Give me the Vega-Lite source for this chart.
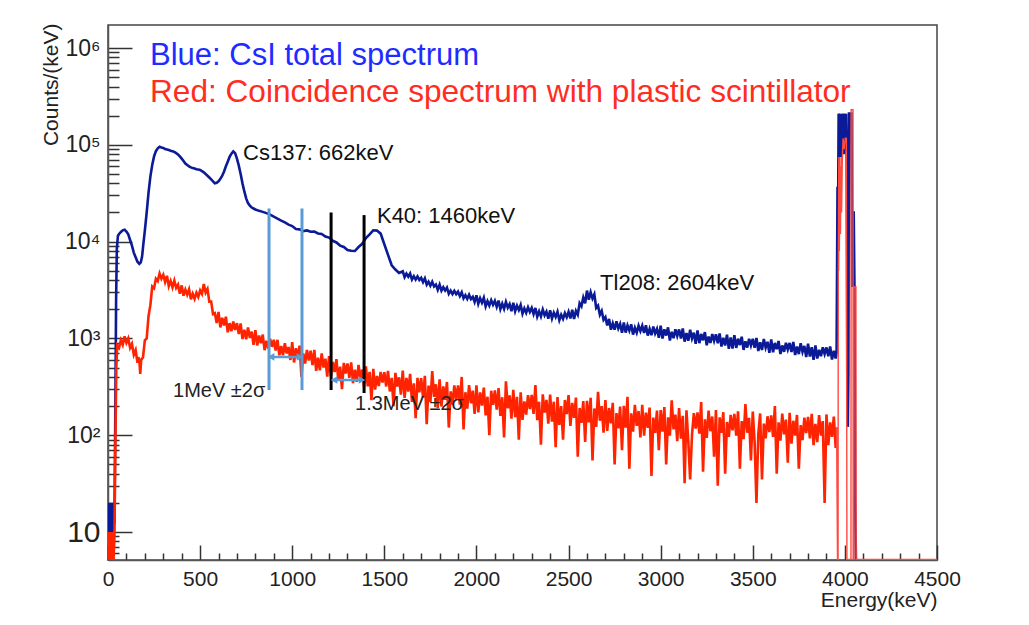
{
"$schema": "https://vega.github.io/schema/vega-lite/v6.json",
"width": 829, "height": 535,
"autosize": {"type": "none"},
"padding": {"left": 108, "top": 25, "right": 92, "bottom": 65},
"background": "white",
"config": {"view": {"stroke": "#444", "strokeWidth": 1.5}, "font": "Liberation Sans"},
"datasets": {
"blue": [
{"e":0,"c":20},{"e":5,"c":10},{"e":10,"c":20},{"e":15,"c":10},{"e":20,"c":20},{"e":25,"c":10},{"e":30,"c":20},{"e":35,"c":12},{"e":40,"c":200},{"e":44,"c":2500},{"e":48,"c":8500},{"e":54,"c":11500},{"e":60,"c":12000},{"e":70,"c":12600},{"e":80,"c":13100},{"e":90,"c":13300},{"e":100,"c":12700},{"e":110,"c":11900},{"e":120,"c":10400},{"e":130,"c":9100},{"e":140,"c":7700},{"e":150,"c":6900},{"e":160,"c":6200},{"e":170,"c":5900},{"e":178,"c":6100},{"e":185,"c":7000},{"e":192,"c":9500},{"e":200,"c":13000},{"e":210,"c":20000},{"e":220,"c":32000},{"e":230,"c":47000},{"e":240,"c":62000},{"e":250,"c":76000},{"e":260,"c":86000},{"e":270,"c":92000},{"e":280,"c":95500},{"e":290,"c":94000},{"e":300,"c":93000},{"e":310,"c":90500},{"e":320,"c":89500},{"e":330,"c":88500},{"e":340,"c":87000},{"e":350,"c":86000},{"e":360,"c":84500},{"e":370,"c":82000},{"e":380,"c":79500},{"e":390,"c":76000},{"e":400,"c":72000},{"e":410,"c":68000},{"e":420,"c":64000},{"e":430,"c":62000},{"e":440,"c":60000},{"e":450,"c":58500},{"e":460,"c":57500},{"e":470,"c":57000},{"e":480,"c":56000},{"e":490,"c":55500},{"e":500,"c":55000},{"e":510,"c":53500},{"e":520,"c":52000},{"e":530,"c":50000},{"e":540,"c":48000},{"e":550,"c":46000},{"e":560,"c":44000},{"e":570,"c":42000},{"e":580,"c":40000},{"e":590,"c":40500},{"e":600,"c":42000},{"e":610,"c":44500},{"e":620,"c":48000},{"e":630,"c":53000},{"e":640,"c":60000},{"e":650,"c":67000},{"e":660,"c":75000},{"e":670,"c":81000},{"e":680,"c":85500},{"e":690,"c":82000},{"e":700,"c":72000},{"e":710,"c":61000},{"e":720,"c":50000},{"e":730,"c":40000},{"e":740,"c":33000},{"e":750,"c":28000},{"e":760,"c":25000},{"e":770,"c":23500},{"e":780,"c":22500},{"e":790,"c":22000},{"e":800,"c":21500},{"e":820,"c":20800},{"e":840,"c":20300},{"e":860,"c":19700},{"e":880,"c":19000},{"e":900,"c":18100},{"e":920,"c":17300},{"e":940,"c":16500},{"e":960,"c":15800},{"e":980,"c":15000},
{"e":1000,"c":14500},{"e":1020,"c":13500},{"e":1040,"c":13400},{"e":1060,"c":12850},{"e":1080,"c":13050},{"e":1100,"c":12650},{"e":1120,"c":12700},{"e":1140,"c":12150},{"e":1160,"c":12000},{"e":1180,"c":11300},
{"e":1200,"c":11000},{"e":1220,"c":10200},{"e":1240,"c":9800},{"e":1260,"c":9100},{"e":1280,"c":8800},{"e":1300,"c":8200},{"e":1320,"c":8050},{"e":1340,"c":8000},{"e":1360,"c":8800},{"e":1380,"c":9500},
{"e":1400,"c":10900},{"e":1420,"c":11900},{"e":1440,"c":13100},{"e":1460,"c":13000},{"e":1480,"c":12100},{"e":1500,"c":9400},{"e":1520,"c":7300},{"e":1540,"c":5700},{"e":1560,"c":5150},{"e":1580,"c":4750},
{"e":1600,"c":4931},{"e":1610,"c":4291},{"e":1620,"c":4676},{"e":1630,"c":4343},{"e":1640,"c":4682},{"e":1650,"c":4059},{"e":1660,"c":4390},{"e":1670,"c":4047},{"e":1680,"c":4370},{"e":1690,"c":4023},
{"e":1700,"c":4228},{"e":1710,"c":3816},{"e":1720,"c":4181},{"e":1730,"c":3591},{"e":1740,"c":3855},{"e":1750,"c":3507},{"e":1760,"c":3845},{"e":1770,"c":3446},{"e":1780,"c":3595},{"e":1790,"c":3172},
{"e":1800,"c":3591},{"e":1810,"c":3112},{"e":1820,"c":3377},{"e":1830,"c":3123},{"e":1840,"c":3352},{"e":1850,"c":2892},{"e":1860,"c":3114},{"e":1870,"c":2877},{"e":1880,"c":3106},{"e":1890,"c":2869},
{"e":1900,"c":3044},{"e":1910,"c":2743},{"e":1920,"c":3002},{"e":1930,"c":2594},{"e":1940,"c":2796},{"e":1950,"c":2564},{"e":1960,"c":2830},{"e":1970,"c":2555},{"e":1980,"c":2688},{"e":1990,"c":2379},
{"e":2000,"c":2795},{"e":2010,"c":2281},{"e":2020,"c":2605},{"e":2030,"c":2343},{"e":2040,"c":2635},{"e":2050,"c":2142},{"e":2060,"c":2425},{"e":2070,"c":2186},{"e":2080,"c":2486},{"e":2090,"c":2227},
{"e":2100,"c":2444},{"e":2110,"c":2121},{"e":2120,"c":2462},{"e":2130,"c":2009},{"e":2140,"c":2282},{"e":2150,"c":2023},{"e":2160,"c":2382},{"e":2170,"c":2079},{"e":2180,"c":2266},{"e":2190,"c":1908},
{"e":2200,"c":2329},{"e":2210,"c":1905},{"e":2220,"c":2182},{"e":2230,"c":1967},{"e":2240,"c":2218},{"e":2250,"c":1804},{"e":2260,"c":2043},{"e":2270,"c":1842},{"e":2280,"c":2097},{"e":2290,"c":1880},
{"e":2300,"c":2063},{"e":2310,"c":1784},{"e":2320,"c":2063},{"e":2330,"c":1681},{"e":2340,"c":1907},{"e":2350,"c":1688},{"e":2360,"c":1985},{"e":2370,"c":1735},{"e":2380,"c":1894},{"e":2390,"c":1597},
{"e":2400,"c":1952},{"e":2410,"c":1603},{"e":2420,"c":1843},{"e":2430,"c":1668},{"e":2440,"c":1889},{"e":2450,"c":1542},{"e":2460,"c":1754},{"e":2470,"c":1593},{"e":2480,"c":1827},{"e":2490,"c":1659},
{"e":2500,"c":1882},{"e":2510,"c":1610},{"e":2520,"c":1975},{"e":2530,"c":1588},{"e":2540,"c":1925},{"e":2550,"c":1757},{"e":2560,"c":2312},{"e":2570,"c":2147},{"e":2580,"c":2644},{"e":2590,"c":2308},
{"e":2600,"c":3121},{"e":2610,"c":2514},{"e":2620,"c":3002},{"e":2630,"c":2584},{"e":2640,"c":2859},{"e":2650,"c":2070},{"e":2660,"c":2182},{"e":2670,"c":1761},{"e":2680,"c":1925},{"e":2690,"c":1560},
{"e":2700,"c":1661},{"e":2710,"c":1362},{"e":2720,"c":1589},{"e":2730,"c":1231},{"e":2740,"c":1431},{"e":2750,"c":1231},{"e":2760,"c":1500},{"e":2770,"c":1271},{"e":2780,"c":1413},{"e":2790,"c":1145},
{"e":2800,"c":1464},{"e":2810,"c":1149},{"e":2820,"c":1361},{"e":2830,"c":1206},{"e":2840,"c":1401},{"e":2850,"c":1097},{"e":2860,"c":1288},{"e":2870,"c":1145},{"e":2880,"c":1353},{"e":2890,"c":1194},
{"e":2900,"c":1351},{"e":2910,"c":1138},{"e":2920,"c":1368},{"e":2930,"c":1069},{"e":2940,"c":1252},{"e":2950,"c":1082},{"e":2960,"c":1325},{"e":2970,"c":1125},{"e":2980,"c":1252},{"e":2990,"c":1018},
{"e":3000,"c":1351},{"e":3010,"c":998},{"e":3020,"c":1244},{"e":3030,"c":1070},{"e":3040,"c":1302},{"e":3050,"c":953},{"e":3060,"c":1170},{"e":3070,"c":1006},{"e":3080,"c":1243},{"e":3090,"c":1061},
{"e":3100,"c":1240},{"e":3110,"c":1001},{"e":3120,"c":1267},{"e":3130,"c":927},{"e":3140,"c":1137},{"e":3150,"c":947},{"e":3160,"c":1228},{"e":3170,"c":999},{"e":3180,"c":1148},{"e":3190,"c":882},
{"e":3200,"c":1210},{"e":3210,"c":893},{"e":3220,"c":1113},{"e":3230,"c":956},{"e":3240,"c":1163},{"e":3250,"c":851},{"e":3260,"c":1044},{"e":3270,"c":897},{"e":3280,"c":1108},{"e":3290,"c":945},
{"e":3300,"c":1104},{"e":3310,"c":891},{"e":3320,"c":1128},{"e":3330,"c":826},{"e":3340,"c":1014},{"e":3350,"c":844},{"e":3360,"c":1095},{"e":3370,"c":780},{"e":3380,"c":1025},{"e":3390,"c":787},
{"e":3400,"c":1081},{"e":3410,"c":798},{"e":3420,"c":995},{"e":3430,"c":855},{"e":3440,"c":1040},{"e":3450,"c":762},{"e":3460,"c":935},{"e":3470,"c":804},{"e":3480,"c":993},{"e":3490,"c":847},
{"e":3500,"c":990},{"e":3510,"c":799},{"e":3520,"c":1013},{"e":3530,"c":742},{"e":3540,"c":911},{"e":3550,"c":759},{"e":3560,"c":986},{"e":3570,"c":802},{"e":3580,"c":923},{"e":3590,"c":710},
{"e":3600,"c":975},{"e":3610,"c":720},{"e":3620,"c":898},{"e":3630,"c":773},{"e":3640,"c":941},{"e":3650,"c":689},{"e":3660,"c":846},{"e":3670,"c":728},{"e":3680,"c":900},{"e":3690,"c":769},
{"e":3700,"c":899},{"e":3710,"c":725},{"e":3720,"c":919},{"e":3730,"c":673},{"e":3740,"c":826},{"e":3750,"c":688},{"e":3760,"c":892},{"e":3770,"c":726},{"e":3780,"c":835},{"e":3790,"c":642},
{"e":3800,"c":881},{"e":3810,"c":651},{"e":3820,"c":811},{"e":3830,"c":600},{"e":3840,"c":849},{"e":3850,"c":621},{"e":3860,"c":762},{"e":3870,"c":656},{"e":3880,"c":810},{"e":3890,"c":691},
{"e":3900,"c":808},{"e":3910,"c":653},{"e":3920,"c":827},{"e":3930,"c":606},{"e":3940,"c":744},{"e":3950,"c":620},{"e":3955,"c":720},
{"e":3960,"c":37000},{"e":3962,"c":5000},{"e":3964,"c":40000},{"e":3966,"c":210000},{"e":3970,"c":90000},{"e":3974,"c":210000},{"e":3978,"c":75000},{"e":3982,"c":210000},{"e":3986,"c":100000},{"e":3990,"c":210000},{"e":3994,"c":80000},{"e":3998,"c":210000},{"e":4002,"c":120000},{"e":4006,"c":210000},{"e":4010,"c":75000},{"e":4013,"c":440},{"e":4016,"c":122},{"e":4019,"c":440},{"e":4022,"c":210000},{"e":4030,"c":210000},{"e":4036,"c":210000},{"e":4040,"c":3400},{"e":4043,"c":20000},{"e":4048,"c":20000},{"e":4052,"c":3400},{"e":4056,"c":20},{"e":4058,"c":10},{"e":4060,"c":5.2}
],
"red": [
{"e":0,"c":5.2},{"e":5,"c":10},{"e":10,"c":5.2},{"e":15,"c":10},{"e":20,"c":5.2},{"e":25,"c":10},{"e":30,"c":5.2},{"e":35,"c":9},{"e":40,"c":80},{"e":45,"c":500},{"e":50,"c":850},{"e":60,"c":800},{"e":70,"c":960},{"e":80,"c":860},{"e":90,"c":1050},{"e":100,"c":900},{"e":110,"c":1000},{"e":120,"c":800},{"e":130,"c":880},{"e":140,"c":680},{"e":150,"c":760},{"e":160,"c":560},{"e":165,"c":640},{"e":170,"c":600},{"e":175,"c":430},{"e":180,"c":600},{"e":190,"c":640},
{"e":200,"c":954},{"e":210,"c":998},{"e":220,"c":1704},{"e":230,"c":2208},{"e":240,"c":3438},{"e":250,"c":3297},{"e":260,"c":4140},{"e":270,"c":3919},{"e":280,"c":4687},{"e":290,"c":4152},
{"e":300,"c":4548},{"e":310,"c":3823},{"e":320,"c":4432},{"e":330,"c":3469},{"e":340,"c":3926},{"e":350,"c":3369},{"e":360,"c":3962},{"e":370,"c":3333},{"e":380,"c":3591},{"e":390,"c":2896},
{"e":400,"c":3534},{"e":410,"c":2766},{"e":420,"c":3195},{"e":430,"c":2832},{"e":440,"c":3216},{"e":450,"c":2539},{"e":460,"c":2898},{"e":470,"c":2566},{"e":480,"c":2965},{"e":490,"c":2687},
{"e":500,"c":3124},{"e":510,"c":2879},{"e":520,"c":3647},{"e":530,"c":2973},{"e":540,"c":3246},{"e":550,"c":2400},{"e":560,"c":2399},{"e":570,"c":1787},{"e":580,"c":1822},{"e":590,"c":1443},
{"e":600,"c":1875},{"e":610,"c":1300},{"e":620,"c":1638},{"e":630,"c":1360},{"e":640,"c":1676},{"e":650,"c":1156},{"e":660,"c":1438},{"e":670,"c":1190},{"e":680,"c":1492},{"e":690,"c":1224},
{"e":700,"c":1437},{"e":710,"c":1108},{"e":720,"c":1430},{"e":730,"c":987},{"e":740,"c":1227},{"e":750,"c":980},{"e":760,"c":1298},{"e":770,"c":1012},{"e":780,"c":1173},{"e":790,"c":857},
{"e":800,"c":1214},{"e":810,"c":846},{"e":820,"c":1074},{"e":830,"c":891},{"e":840,"c":1097},{"e":850,"c":757},{"e":860,"c":946},{"e":870,"c":788},{"e":880,"c":993},{"e":890,"c":819},
{"e":900,"c":968},{"e":910,"c":748},{"e":920,"c":968},{"e":930,"c":669},{"e":940,"c":834},{"e":950,"c":670},{"e":960,"c":893},{"e":970,"c":700},{"e":980,"c":815},{"e":990,"c":599},
{"e":1000,"c":914},{"e":1010,"c":564},{"e":1020,"c":793},{"e":1030,"c":622},{"e":1040,"c":842},{"e":1050,"c":400},{"e":1060,"c":701},{"e":1070,"c":550},{"e":1080,"c":762},{"e":1090,"c":590},
{"e":1100,"c":747},{"e":1110,"c":529},{"e":1120,"c":760},{"e":1130,"c":462},{"e":1140,"c":631},{"e":1150,"c":469},{"e":1160,"c":700},{"e":1170,"c":501},{"e":1180,"c":617},{"e":1190,"c":404},
{"e":1200,"c":657},{"e":1210,"c":406},{"e":1220,"c":572},{"e":1230,"c":450},{"e":1240,"c":610},{"e":1250,"c":372},{"e":1260,"c":511},{"e":1270,"c":300},{"e":1280,"c":559},{"e":1290,"c":434},
{"e":1300,"c":551},{"e":1310,"c":392},{"e":1320,"c":567},{"e":1330,"c":346},{"e":1340,"c":476},{"e":1350,"c":356},{"e":1360,"c":534},{"e":1370,"c":385},{"e":1380,"c":477},{"e":1390,"c":314},
{"e":1400,"c":515},{"e":1410,"c":319},{"e":1420,"c":452},{"e":1430,"c":230},{"e":1440,"c":485},{"e":1450,"c":296},{"e":1460,"c":409},{"e":1470,"c":322},{"e":1480,"c":450},{"e":1490,"c":350},
{"e":1500,"c":447},{"e":1510,"c":319},{"e":1520,"c":462},{"e":1530,"c":283},{"e":1540,"c":391},{"e":1550,"c":200},{"e":1560,"c":441},{"e":1570,"c":319},{"e":1580,"c":397},{"e":1590,"c":262},
{"e":1600,"c":466},{"e":1610,"c":243},{"e":1620,"c":391},{"e":1630,"c":283},{"e":1640,"c":431},{"e":1650,"c":221},{"e":1660,"c":343},{"e":1670,"c":150},{"e":1680,"c":391},{"e":1690,"c":278},
{"e":1700,"c":389},{"e":1710,"c":246},{"e":1720,"c":410},{"e":1730,"c":130},{"e":1740,"c":326},{"e":1750,"c":221},{"e":1760,"c":460},{"e":1770,"c":249},{"e":1780,"c":336},{"e":1790,"c":192},
{"e":1800,"c":379},{"e":1810,"c":198},{"e":1820,"c":319},{"e":1830,"c":232},{"e":1840,"c":355},{"e":1850,"c":120},{"e":1860,"c":284},{"e":1870,"c":207},{"e":1880,"c":327},{"e":1890,"c":233},
{"e":1900,"c":327},{"e":1910,"c":207},{"e":1920,"c":400},{"e":1930,"c":115},{"e":1940,"c":278},{"e":1950,"c":188},{"e":1960,"c":330},{"e":1970,"c":214},{"e":1980,"c":289},{"e":1990,"c":166},
{"e":2000,"c":328},{"e":2010,"c":172},{"e":2020,"c":277},{"e":2030,"c":202},{"e":2040,"c":310},{"e":2050,"c":160},{"e":2060,"c":250},{"e":2070,"c":100},{"e":2080,"c":288},{"e":2090,"c":206},
{"e":2100,"c":290},{"e":2110,"c":184},{"e":2120,"c":307},{"e":2130,"c":158},{"e":2140,"c":247},{"e":2150,"c":95},{"e":2160,"c":360},{"e":2170,"c":190},{"e":2180,"c":258},{"e":2190,"c":148},
{"e":2200,"c":294},{"e":2210,"c":154},{"e":2220,"c":249},{"e":2230,"c":90},{"e":2240,"c":278},{"e":2250,"c":144},{"e":2260,"c":224},{"e":2270,"c":163},{"e":2280,"c":259},{"e":2290,"c":186},
{"e":2300,"c":261},{"e":2310,"c":166},{"e":2320,"c":330},{"e":2330,"c":143},{"e":2340,"c":222},{"e":2350,"c":80},{"e":2360,"c":265},{"e":2370,"c":171},{"e":2380,"c":232},{"e":2390,"c":132},
{"e":2400,"c":263},{"e":2410,"c":138},{"e":2420,"c":222},{"e":2430,"c":75},{"e":2440,"c":248},{"e":2450,"c":128},{"e":2460,"c":200},{"e":2470,"c":90},{"e":2480,"c":231},{"e":2490,"c":165},
{"e":2500,"c":260},{"e":2510,"c":125},{"e":2520,"c":216},{"e":2530,"c":151},{"e":2540,"c":245},{"e":2550,"c":60},{"e":2560,"c":191},{"e":2570,"c":134},{"e":2580,"c":225},{"e":2590,"c":85},
{"e":2600,"c":227},{"e":2610,"c":136},{"e":2620,"c":243},{"e":2630,"c":55},{"e":2640,"c":189},{"e":2650,"c":122},{"e":2660,"c":280},{"e":2670,"c":141},{"e":2680,"c":200},{"e":2690,"c":106},
{"e":2700,"c":231},{"e":2710,"c":111},{"e":2720,"c":191},{"e":2730,"c":133},{"e":2740,"c":216},{"e":2750,"c":50},{"e":2760,"c":169},{"e":2770,"c":118},{"e":2780,"c":198},{"e":2790,"c":70},
{"e":2800,"c":201},{"e":2810,"c":120},{"e":2820,"c":250},{"e":2830,"c":45},{"e":2840,"c":168},{"e":2850,"c":109},{"e":2860,"c":206},{"e":2870,"c":125},{"e":2880,"c":178},{"e":2890,"c":95},
{"e":2900,"c":206},{"e":2910,"c":99},{"e":2920,"c":171},{"e":2930,"c":119},{"e":2940,"c":193},{"e":2950,"c":38},{"e":2960,"c":152},{"e":2970,"c":106},{"e":2980,"c":180},{"e":2990,"c":70},
{"e":3000,"c":182},{"e":3010,"c":109},{"e":3020,"c":195},{"e":3030,"c":50},{"e":3040,"c":153},{"e":3050,"c":99},{"e":3060,"c":230},{"e":3070,"c":115},{"e":3080,"c":163},{"e":3090,"c":87},
{"e":3100,"c":191},{"e":3110,"c":92},{"e":3120,"c":159},{"e":3130,"c":32},{"e":3140,"c":181},{"e":3150,"c":86},{"e":3160,"c":35},{"e":3170,"c":100},{"e":3180,"c":169},{"e":3190,"c":117},
{"e":3200,"c":172},{"e":3210,"c":104},{"e":3220,"c":220},{"e":3230,"c":42},{"e":3240,"c":146},{"e":3250,"c":94},{"e":3260,"c":180},{"e":3270,"c":110},{"e":3280,"c":156},{"e":3290,"c":60},
{"e":3300,"c":182},{"e":3310,"c":30},{"e":3320,"c":153},{"e":3330,"c":106},{"e":3340,"c":173},{"e":3350,"c":40},{"e":3360,"c":137},{"e":3370,"c":96},{"e":3380,"c":162},{"e":3390,"c":112},
{"e":3400,"c":166},{"e":3410,"c":99},{"e":3420,"c":177},{"e":3430,"c":45},{"e":3440,"c":140},{"e":3450,"c":91},{"e":3460,"c":210},{"e":3470,"c":106},{"e":3480,"c":151},{"e":3490,"c":55},
{"e":3500,"c":176},{"e":3510,"c":85},{"e":3520,"c":20},{"e":3530,"c":103},{"e":3540,"c":168},{"e":3550,"c":35},{"e":3560,"c":132},{"e":3570,"c":93},{"e":3580,"c":157},{"e":3590,"c":108},
{"e":3600,"c":160},{"e":3610,"c":96},{"e":3620,"c":200},{"e":3630,"c":40},{"e":3640,"c":136},{"e":3650,"c":88},{"e":3660,"c":167},{"e":3670,"c":102},{"e":3680,"c":145},{"e":3690,"c":52},
{"e":3700,"c":170},{"e":3710,"c":82},{"e":3720,"c":141},{"e":3730,"c":99},{"e":3740,"c":162},{"e":3750,"c":45},{"e":3760,"c":127},{"e":3770,"c":89},{"e":3780,"c":152},{"e":3790,"c":105},
{"e":3800,"c":155},{"e":3810,"c":93},{"e":3820,"c":166},{"e":3830,"c":79},{"e":3840,"c":131},{"e":3850,"c":85},{"e":3860,"c":161},{"e":3870,"c":99},{"e":3880,"c":140},{"e":3890,"c":20},
{"e":3900,"c":164},{"e":3910,"c":79},{"e":3920,"c":136},{"e":3930,"c":96},{"e":3940,"c":156},{"e":3950,"c":74},{"e":3955,"c":120}
],
"redpk": [
{"e":3955,"c":120},{"e":3960,"c":5.2},{"e":3963,"c":5.2},{"e":3964,"c":5000},{"e":3967,"c":75000},{"e":3970,"c":8000},{"e":3973,"c":60000},{"e":3976,"c":12000},{"e":3979,"c":75000},{"e":3982,"c":20000},{"e":3986,"c":70000},{"e":3990,"c":117000},{"e":3996,"c":90000},{"e":4002,"c":117000},{"e":4008,"c":117000},{"e":4011,"c":5.2},{"e":4033,"c":5.2},{"e":4034,"c":230000},{"e":4044,"c":230000},{"e":4045,"c":5.2},{"e":4049,"c":5.2},{"e":4050,"c":3400},{"e":4060,"c":3400},{"e":4061,"c":5.2},{"e":4500,"c":5.2}
],
"vl": [
{"e":874,"c":293,"c2":22000,"k":"b"},{"e":1053,"c":293,"c2":22000,"k":"b"},{"e":1211,"c":293,"c2":20000,"k":"k"},{"e":1390,"c":273,"c2":18800,"k":"k"}
],
"ar": [{"e":885,"e2":1042,"c":643},{"e":1227,"e2":1379,"c":372}],
"hd": [{"e":885,"c":643,"s":"triangle-left"},{"e":1042,"c":643,"s":"triangle-right"},{"e":1227,"c":372,"s":"triangle-left"},{"e":1379,"c":372,"s":"triangle-right"}],
"tb": [{"e":228,"c":667000,"t":"Blue: CsI total spectrum"}],
"tr": [{"e":228,"c":277000,"t":"Red: Coincidence spectrum with plastic scintillator"}],
"tp": [{"e":733,"c":69700,"t":"Cs137: 662keV"},{"e":1460,"c":15600,"t":"K40: 1460keV"},{"e":2671,"c":3160,"t":"Tl208: 2604keV"}],
"ts": [{"e":353,"c":248,"t":"1MeV ±2σ"},{"e":1341,"c":182,"t":"1.3MeV ±2σ"}]
},
"encoding": {
"x": {"field": "e", "type": "quantitative",
 "scale": {"domain": [0, 4500], "nice": false, "zero": false},
 "axis": {"title": "Energy(keV)", "grid": false,
  "values": [0,100,200,300,400,500,600,700,800,900,1000,1100,1200,1300,1400,1500,1600,1700,1800,1900,2000,2100,2200,2300,2400,2500,2600,2700,2800,2900,3000,3100,3200,3300,3400,3500,3600,3700,3800,3900,4000,4100,4200,4300,4400,4500],
  "format": "d",
  "labelExpr": "datum.value % 500 === 0 ? datum.label : ''",
  "tickSize": {"condition": {"test": "datum.value % 500 === 0", "value": -15}, "value": -7},
  "tickColor": "#333", "tickWidth": 1.5,
  "domainColor": "#555", "domainWidth": 1.5,
  "labelPadding": 23, "labelFontSize": 21, "labelFont": "Liberation Sans", "labelColor": "#222",
  "labelFlush": false, "labelOverlap": false,
  "titleFont": "Liberation Sans", "titleFontSize": 21, "titleFontWeight": "normal", "titleColor": "#222",
  "titleAnchor": "end", "titleAlign": "right", "titleBaseline": "alphabetic", "titleX": 829, "titleY": 46}},
"y": {"field": "c", "type": "quantitative",
 "scale": {"type": "log", "domain": [5.14, 1730000], "nice": false},
 "axis": {"title": "Counts/(keV)", "grid": false,
  "values": [6,7,8,9,10,20,30,40,50,60,70,80,90,100,200,300,400,500,600,700,800,900,1000,2000,3000,4000,5000,6000,7000,8000,9000,10000,20000,30000,40000,50000,60000,70000,80000,90000,100000,200000,300000,400000,500000,600000,700000,800000,900000,1000000],
  "labelExpr": "datum.value == 10 ? '10' : datum.value == 100 ? '10\u00b2' : datum.value == 1000 ? '10\u00b3' : datum.value == 10000 ? '10\u2074' : datum.value == 100000 ? '10\u2075' : datum.value == 1000000 ? '10\u2076' : ''",
  "tickSize": {"condition": {"test": "datum.value == 10 || datum.value == 100 || datum.value == 1000 || datum.value == 10000 || datum.value == 100000 || datum.value == 1000000", "value": -24}, "value": -11},
  "tickColor": "#333", "tickWidth": 1.5,
  "domainColor": "#555", "domainWidth": 1.5,
  "labelPadding": 32,
  "labelFontSize": {"condition": {"test": "datum.value == 10", "value": 30}, "value": 23},
  "labelFont": "Liberation Sans", "labelColor": "#222",
  "labelFlush": false, "labelOverlap": false, "labelBaseline": "middle",
  "titleFont": "Liberation Sans", "titleFontSize": 21, "titleFontWeight": "normal", "titleColor": "#222",
  "titleAngle": 270, "titleAlign": "right", "titleBaseline": "alphabetic", "titleX": -51, "titleY": -2}}
},
"layer": [
{"data": {"name": "blue"}, "mark": {"type": "line", "color": "#0b1a96", "strokeWidth": 2.6, "clip": true}},
{"data": {"name": "red"}, "mark": {"type": "line", "color": "#ff2300", "strokeWidth": 2.6, "clip": true}},
{"data": {"name": "redpk"}, "mark": {"type": "line", "color": "#ff4a40", "strokeWidth": 1.4, "clip": true}},
{"data": {"name": "vl"}, "mark": {"type": "rule", "strokeWidth": 3},
 "encoding": {"y2": {"field": "c2"}, "color": {"field": "k", "type": "nominal", "scale": {"domain": ["b", "k"], "range": ["#5b9bd5", "#000000"]}, "legend": null}}},
{"data": {"name": "ar"}, "mark": {"type": "rule", "color": "#5b9bd5", "strokeWidth": 2.5}, "encoding": {"x2": {"field": "e2"}}},
{"data": {"name": "hd"}, "mark": {"type": "point", "filled": true, "color": "#5b9bd5", "opacity": 1, "size": 60},
 "encoding": {"shape": {"field": "s", "type": "nominal", "scale": null}}},
{"data": {"name": "tb"}, "mark": {"type": "text", "align": "left", "baseline": "alphabetic", "fontSize": 31, "color": "#1e2dff", "font": "Liberation Sans"}, "encoding": {"text": {"field": "t"}}},
{"data": {"name": "tr"}, "mark": {"type": "text", "align": "left", "baseline": "alphabetic", "fontSize": 31.6, "color": "#ff2d1f", "font": "Liberation Sans"}, "encoding": {"text": {"field": "t"}}},
{"data": {"name": "tp"}, "mark": {"type": "text", "align": "left", "baseline": "alphabetic", "fontSize": 22, "color": "#111111", "font": "Liberation Sans"}, "encoding": {"text": {"field": "t"}}},
{"data": {"name": "ts"}, "mark": {"type": "text", "align": "left", "baseline": "alphabetic", "fontSize": 20, "color": "#222222", "font": "Liberation Sans"}, "encoding": {"text": {"field": "t"}}}
]
}
